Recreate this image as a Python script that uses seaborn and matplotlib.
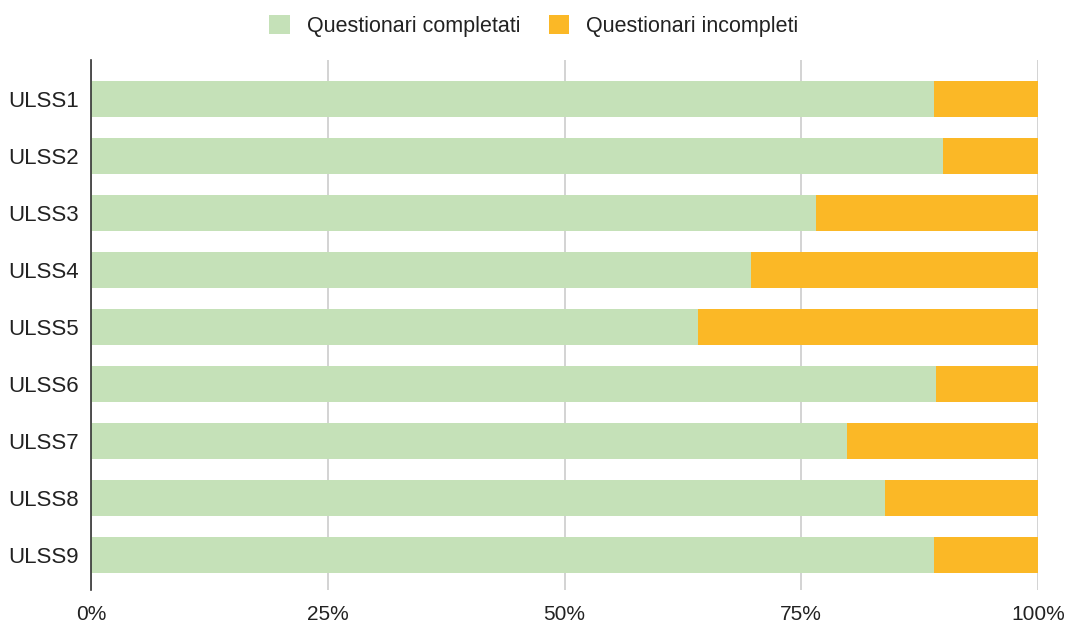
import matplotlib
matplotlib.use("Agg")
import matplotlib.pyplot as plt
import seaborn as sns
import pandas as pd
from matplotlib.patches import Patch

# Data (percent)
regions = ["ULSS1", "ULSS2", "ULSS3", "ULSS4", "ULSS5", "ULSS6", "ULSS7", "ULSS8", "ULSS9"]
completati = [89.0, 90.0, 76.6, 69.7, 64.1, 89.2, 79.8, 83.8, 89.0]
incompleti = [11.0, 10.0, 23.4, 30.3, 35.9, 10.8, 20.2, 16.2, 11.0]
ticks = [0, 25, 50, 75, 100]
tick_labels = ["0%", "25%", "50%", "75%", "100%"]

green = "#c5e1b8"
orange = "#fbb826"

df = pd.DataFrame({"regione": regions, "completati": completati, "incompleti": incompleti})
df["totale"] = df["completati"] + df["incompleti"]

sns.set_style("white")
plt.rcParams["font.family"] = ["Liberation Sans", "DejaVu Sans"]

fig = plt.figure(figsize=(10.68, 6.24), dpi=100)
ax = fig.add_axes([91 / 1068, 1 - 590 / 624, (1038 - 91) / 1068, 530 / 624])

# stacked bars: full length in orange, completed part over it in green
sns.barplot(data=df, y="regione", x="totale", color=orange, orient="h", width=0.64,
            saturation=1, linewidth=0, ax=ax, zorder=2)
sns.barplot(data=df, y="regione", x="completati", color=green, orient="h", width=0.64,
            saturation=1, linewidth=0, ax=ax, zorder=3)

ax.set_xlim(0, 100)
ax.set_ylim(8.61, -0.68)
ax.set_xticks(ticks)
ax.set_xticklabels(tick_labels)
ax.set_xlabel("")
ax.set_ylabel("")
ax.grid(axis="x", color="#cccccc", linewidth=1.2, zorder=0)
ax.set_axisbelow(True)
for s in ["top", "right", "bottom"]:
    ax.spines[s].set_visible(False)
ax.spines["left"].set_color("#333333")
ax.spines["left"].set_linewidth(1.2)
ax.spines["left"].set_zorder(5)
ax.tick_params(axis="both", length=0, colors="#222222")
ax.tick_params(axis="x", pad=11, labelsize=15)
ax.tick_params(axis="y", pad=9, labelsize=16)

handles = [Patch(facecolor=green, edgecolor="none", label="Questionari completati"),
           Patch(facecolor=orange, edgecolor="none", label="Questionari incompleti")]
fig.legend(handles=handles, loc="center", bbox_to_anchor=(0.5, 1 - 26 / 624), ncol=2,
           frameon=False, fontsize=15.5, handlelength=0.95, handleheight=0.95,
           handletextpad=0.8, columnspacing=1.3, labelcolor="#222222")

fig.savefig("out.png", dpi=100)
